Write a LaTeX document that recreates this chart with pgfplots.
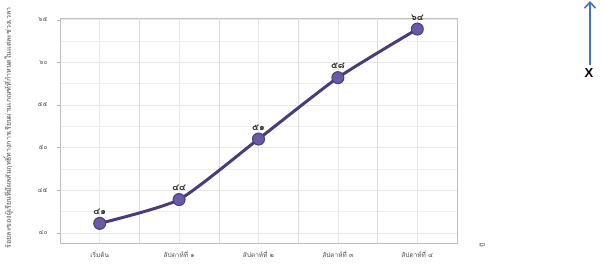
\documentclass[border=0pt]{standalone}
\usepackage{fontspec}
\setmainfont{Liberation Sans}
\newfontfamily\thaifont[Script=Thai]{Loma}
\usepackage{pgfplots}
\pgfplotsset{compat=1.18}
\usetikzlibrary{arrows.meta}
\definecolor{lineP}{HTML}{4B3B78}
\definecolor{markP}{HTML}{6A5AA6}
\definecolor{gridG}{HTML}{DCDCDC}
\definecolor{arrowB}{HTML}{4472C4}
\begin{document}
\begin{tikzpicture}[x=1pt,y=1pt]
\useasboundingbox (0,0) rectangle (605,265);
\begin{axis}[
  at={(60pt,22pt)}, anchor=south west,
  width=397pt, height=225pt, scale only axis,
  xmin=-0.5, xmax=4.5, ymin=38.8, ymax=65.2,
  xtick={0,1,2,3,4},
  xticklabels={เริ่มต้น, สัปดาห์ที่ ๑, สัปดาห์ที่ ๒, สัปดาห์ที่ ๓, สัปดาห์ที่ ๔},
  extra x ticks={0.5,1.5,2.5,3.5},
  extra x tick labels={},
  extra x tick style={grid=major, major grid style={gridG, line width=0.6pt}},
  ytick={40,45,50,55,60,65},
  yticklabels={๔๐,๔๕,๕๐,๕๕,๖๐,๖๕},
  minor y tick num=1,
  ymajorgrids, yminorgrids, xmajorgrids,
  major grid style={gridG!70, line width=0.5pt},
  minor grid style={gridG!45, line width=0.4pt},
  axis line style={gray!50},
  tick style={gray!60},
  ytick pos=left,
  major tick length=3pt, minor tick length=0pt,
  xtick style={draw=none},
  tick align=outside,
  ticklabel style={font=\thaifont\fontsize{6.5}{7}\selectfont, text=gray!60!black},
  xticklabel style={yshift=-1pt},
  yticklabel style={xshift=-6pt},
  clip=false,
  nodes near coords,
  point meta=explicit symbolic,
  every node near coord/.append style={font=\thaifont\bfseries\fontsize{9}{10}\selectfont, text=black!85, yshift=5pt},
]
\addplot[lineP, line width=3pt, smooth, tension=0.35,
  mark=*, mark size=6pt, mark options={fill=markP, draw=lineP, line width=1pt}]
  coordinates {(0,41.1) [๔๑] (1,43.9) [๔๔] (2,51.0) [๕๑] (3,58.2) [๕๘] (4,63.9) [๖๔]};
\end{axis}
\node[rotate=90, text=gray!60!black, font=\thaifont\fontsize{7}{8}\selectfont] at (8,137)
  {ร้อยละของผู้เรียนที่มีผลสัมฤทธิ์ทางการเรียนผ่านเกณฑ์ที่กำหนดในแต่ละช่วงเวลา};
\node[rotate=90, text=gray!60!black, font=\thaifont\fontsize{6.5}{7}\selectfont] at (482,20) {ปี};
\draw[arrowB, line width=1.6pt, -{Straight Barb[length=6pt,width=11pt,line width=1.6pt]}] (590,200) -- (590,264);
\node[font=\bfseries\fontsize{13}{14}\selectfont] at (589,192) {X};
\end{tikzpicture}
\end{document}
